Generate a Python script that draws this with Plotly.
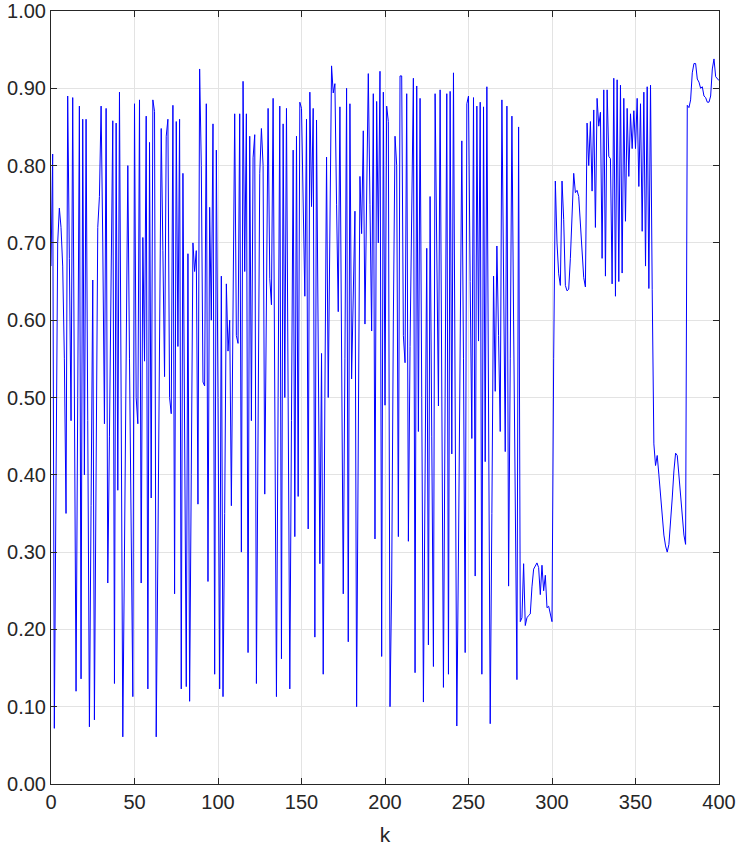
import plotly.graph_objects as go

k_values = list(range(0, 401))

seg_000_099 = [
    0.67, 0.815, 0.072, 0.45, 0.70, 0.745, 0.72, 0.67, 0.55, 0.35,
    0.89, 0.68, 0.47, 0.888, 0.50, 0.12, 0.50, 0.877, 0.136, 0.86,
    0.40, 0.86, 0.47, 0.074, 0.36, 0.652, 0.083, 0.45, 0.72, 0.76,
    0.877, 0.70, 0.466, 0.874, 0.26, 0.45, 0.66, 0.858, 0.13, 0.855,
    0.38, 0.895, 0.50, 0.061, 0.30, 0.55, 0.80, 0.55, 0.30, 0.113,
    0.88, 0.50, 0.466, 0.885, 0.26, 0.707, 0.547, 0.864, 0.123, 0.83,
    0.37, 0.885, 0.87, 0.061, 0.30, 0.60, 0.848, 0.69, 0.527, 0.838,
    0.86, 0.50, 0.479, 0.878, 0.246, 0.857, 0.566, 0.86, 0.123, 0.79,
    0.45, 0.126, 0.686, 0.107, 0.40, 0.70, 0.663, 0.69, 0.362, 0.925,
    0.80, 0.52, 0.515, 0.88, 0.262, 0.746, 0.60, 0.854, 0.142, 0.82,
]
seg_100_199 = [
    0.50, 0.123, 0.657, 0.113, 0.35, 0.647, 0.56, 0.60, 0.36, 0.65,
    0.867, 0.58, 0.57, 0.867, 0.30, 0.909, 0.663, 0.867, 0.17, 0.838,
    0.47, 0.81, 0.84, 0.13, 0.48, 0.79, 0.848, 0.80, 0.375, 0.60,
    0.874, 0.654, 0.62, 0.887, 0.50, 0.113, 0.50, 0.877, 0.162, 0.854,
    0.50, 0.874, 0.50, 0.123, 0.47, 0.82, 0.32, 0.838, 0.372, 0.882,
    0.874, 0.75, 0.631, 0.86, 0.33, 0.895, 0.747, 0.874, 0.19, 0.859,
    0.55, 0.285, 0.557, 0.142, 0.50, 0.811, 0.50, 0.75, 0.929, 0.894,
    0.906, 0.75, 0.611, 0.876, 0.55, 0.246, 0.55, 0.90, 0.184, 0.88,
    0.524, 0.63, 0.741, 0.10, 0.45, 0.786, 0.712, 0.845, 0.595, 0.75,
    0.919, 0.75, 0.586, 0.893, 0.317, 0.883, 0.70, 0.922, 0.165, 0.895,
]
seg_200_299 = [
    0.49, 0.877, 0.857, 0.10, 0.26, 0.60, 0.838, 0.80, 0.32, 0.916,
    0.916, 0.58, 0.545, 0.893, 0.314, 0.566, 0.75, 0.913, 0.144, 0.903,
    0.456, 0.887, 0.50, 0.106, 0.40, 0.693, 0.18, 0.76, 0.45, 0.152,
    0.893, 0.70, 0.489, 0.898, 0.50, 0.125, 0.50, 0.893, 0.142, 0.896,
    0.427, 0.92, 0.50, 0.075, 0.30, 0.60, 0.832, 0.55, 0.17, 0.88,
    0.89, 0.65, 0.447, 0.888, 0.269, 0.877, 0.573, 0.882, 0.142, 0.876,
    0.417, 0.902, 0.50, 0.078, 0.35, 0.657, 0.508, 0.696, 0.58, 0.456,
    0.885, 0.65, 0.43, 0.877, 0.256, 0.55, 0.864, 0.60, 0.35, 0.135,
    0.85, 0.21, 0.215, 0.285, 0.205, 0.215, 0.218, 0.22, 0.255, 0.278,
    0.282, 0.286, 0.28, 0.245, 0.283, 0.25, 0.27, 0.228, 0.23, 0.22,
]
seg_300_400 = [
    0.21, 0.55, 0.78, 0.70, 0.66, 0.645, 0.78, 0.73, 0.645, 0.638,
    0.64, 0.68, 0.74, 0.79, 0.765, 0.768, 0.76, 0.725, 0.69, 0.655,
    0.643, 0.855, 0.80, 0.857, 0.767, 0.872, 0.72, 0.887, 0.851, 0.869,
    0.68, 0.898, 0.657, 0.898, 0.812, 0.809, 0.647, 0.913, 0.631, 0.911,
    0.65, 0.904, 0.661, 0.887, 0.728, 0.874, 0.786, 0.867, 0.822, 0.871,
    0.822, 0.887, 0.773, 0.88, 0.715, 0.895, 0.67, 0.902, 0.641, 0.904,
    0.64, 0.44, 0.412, 0.425, 0.40, 0.372, 0.345, 0.322, 0.308, 0.30,
    0.31, 0.335, 0.37, 0.405, 0.428, 0.425, 0.40, 0.37, 0.342, 0.322,
    0.31, 0.878, 0.875, 0.885, 0.92, 0.932, 0.932, 0.912, 0.908, 0.90,
    0.902, 0.89, 0.888, 0.882, 0.882, 0.89, 0.925, 0.938, 0.915, 0.913,
    0.91,
]
series_values = seg_000_099 + seg_100_199 + seg_200_299 + seg_300_400

x_tick_values = [0, 50, 100, 150, 200, 250, 300, 350, 400]
y_tick_values = [i / 10 for i in range(11)]
y_tick_labels = [f"{v:.2f}" for v in y_tick_values]

FONT = "Arial, 'Liberation Sans', sans-serif"

fig = go.Figure()
fig.add_trace(go.Scatter(
    x=k_values, y=series_values, mode="lines",
    line=dict(color="#0000ff", width=1), showlegend=False,
))

axis_common = dict(
    showline=True, linecolor="#262626", linewidth=1, mirror="allticks",
    ticks="inside", ticklen=6, tickcolor="#262626",
    showgrid=True, gridcolor="#e3e3e3", gridwidth=1, zeroline=False,
    tickfont=dict(family=FONT, size=20, color="#262626"),
    automargin=False, ticklabeloverflow="allow",
)
fig.update_xaxes(range=[0, 400], tickvals=x_tick_values,
                 title=dict(text="k", font=dict(family=FONT, size=21, color="#262626"), standoff=22),
                 **axis_common)
fig.update_yaxes(range=[0, 1], tickvals=y_tick_values, ticktext=y_tick_labels, **axis_common)
fig.update_layout(
    width=739, height=846,
    margin=dict(l=51, r=20, t=11, b=62),
    paper_bgcolor="white", plot_bgcolor="white",
)
fig.write_html("out.html", config={"displayModeBar": False},
               post_script="document.body.style.margin='0';")
